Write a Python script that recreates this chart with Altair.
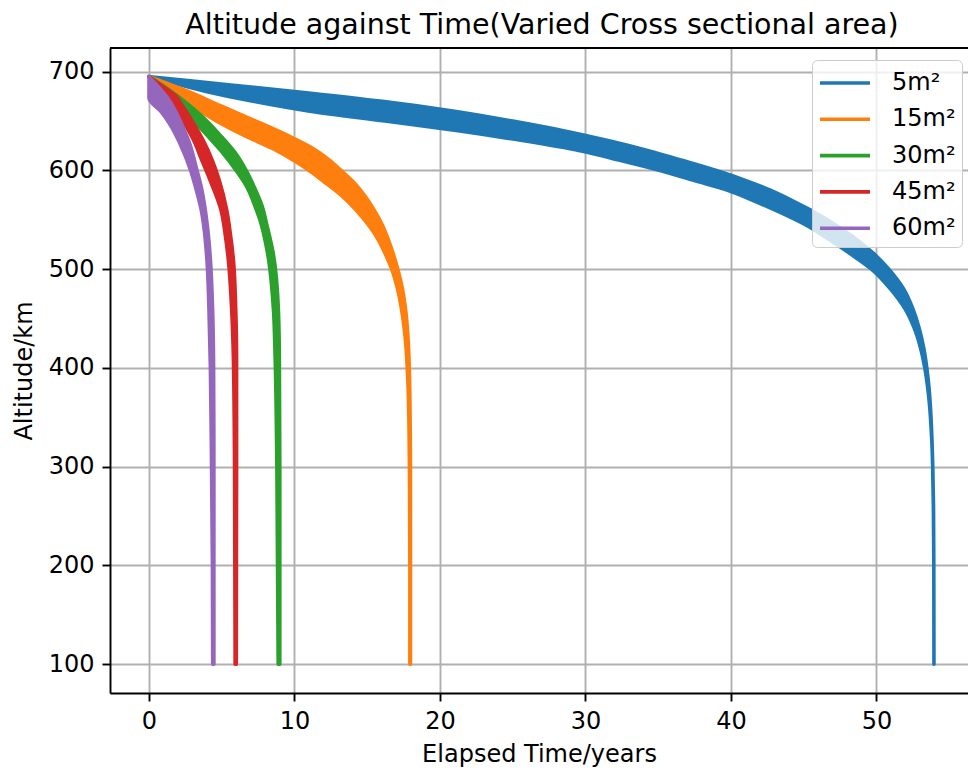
import altair as alt
import pandas as pd

# Cross-sectional areas and their line colours
names = ["5m²", "15m²", "30m²", "45m²", "60m²"]
colors = ["#1f77b4", "#ff7f0e", "#2ca02c", "#d62728", "#9467bd"]

# Each band is the region swept by the oscillating altitude: at a given
# altitude (km) the band runs from t_left (perigee passes it) to t_right
# (apogee passes it), both in years.
alt_5 = [695, 690, 680, 670, 660, 650, 640, 630, 620, 610, 600, 590, 580, 570, 560,
         545, 530, 516, 500, 480, 460, 440, 420, 400, 380, 360, 340, 320, 300, 260, 200, 100]
tl_5 = [0, 1.25, 3.91, 7.14, 11.04, 16.21, 21.36, 25.77, 29.62, 32.43, 35.12, 37.44, 39.77, 41.45, 43.0,
        45.11, 46.74, 48.15, 49.65, 50.95, 51.95, 52.6, 53.03, 53.32, 53.52, 53.66, 53.75, 53.82, 53.86,
        53.91, 53.94, 53.95]
tr_5 = [0, 3.33, 10.0, 16.04, 21.0, 25.0, 28.57, 31.62, 34.32, 36.71, 39.0, 40.99, 42.71, 44.14, 45.45,
        47.16, 48.65, 49.8, 50.85, 51.87, 52.5, 52.94, 53.25, 53.46, 53.61, 53.71, 53.78, 53.83, 53.87,
        53.92, 53.94, 53.95]

alt_15 = [695, 680, 665, 650, 635, 622.5, 610, 600, 587, 575, 560, 545, 530, 515, 500, 480, 460,
          440, 420, 400, 370, 330, 280, 200, 100]
tl_15 = [0, 1.4, 3.0, 4.65, 6.6, 8.45, 9.95, 11.0, 12.17, 13.2, 14.23, 15.07, 15.75, 16.25, 16.68,
         17.08, 17.35, 17.54, 17.67, 17.75, 17.83, 17.88, 17.91, 17.93, 17.93]
tr_15 = [0, 2.7, 5.0, 7.35, 9.6, 11.25, 12.45, 13.2, 14.13, 14.8, 15.47, 16.03, 16.45, 16.8, 17.1,
         17.42, 17.63, 17.76, 17.84, 17.89, 17.93, 17.96, 17.97, 17.97, 17.97]

alt_30 = [695, 688, 675, 655, 636, 618, 600, 584, 560, 550, 516, 460, 410, 300, 100]
tl_30 = [0, 0.6, 1.56, 2.79, 3.96, 5.05, 5.98, 6.7, 7.38, 7.62, 8.15, 8.55, 8.67, 8.79, 8.88]
tr_30 = [0, 0.75, 2.0, 3.63, 4.87, 5.92, 6.68, 7.21, 7.86, 8.02, 8.54, 8.89, 8.96, 8.99, 8.99]

alt_45 = [695, 685, 675, 668, 650, 631, 610, 590, 560, 535, 510, 460, 410, 300, 100]
tl_45 = [0, 0.75, 1.29, 1.67, 2.34, 3.05, 3.64, 4.2, 4.95, 5.24, 5.45, 5.68, 5.8, 5.88, 5.92]
tr_45 = [0, 0.94, 1.87, 2.19, 2.97, 3.71, 4.36, 4.83, 5.34, 5.6, 5.8, 5.96, 6.02, 6.02, 6.0]

alt_60 = [695, 673, 660, 645, 628, 600, 584, 560, 543, 510, 460, 400, 300, 200, 100]
tl_60 = [0, 0, 0.8, 1.51, 2.1, 2.86, 3.18, 3.59, 3.77, 3.98, 4.12, 4.22, 4.30, 4.36, 4.38]
tr_60 = [0, 1.3, 1.82, 2.3, 2.78, 3.3, 3.58, 3.87, 4.02, 4.22, 4.37, 4.44, 4.46, 4.46, 4.46]

bands = [(alt_5, tl_5, tr_5), (alt_15, tl_15, tr_15), (alt_30, tl_30, tr_30),
         (alt_45, tl_45, tr_45), (alt_60, tl_60, tr_60)]

x_ticks = [0, 10, 20, 30, 40, 50]
y_ticks = [100, 200, 300, 400, 500, 600, 700]

rows = []
for name, (a, tl, tr) in zip(names, bands):
    for ai, l, r in zip(a, tl, tr):
        rows.append({"area": name, "altitude": ai, "t_left": l, "t_right": r})
df = pd.DataFrame(rows)

FONT = "DejaVu Sans"
W, H = 858, 645

x_scale = alt.Scale(domain=[-2.68, 56.29], nice=False, zero=False)
y_scale = alt.Scale(domain=[70.8, 724.0], nice=False, zero=False)
c_scale = alt.Scale(domain=names, range=colors)

# legend handle: a short horizontal stroke, drawn as a custom symbol path
legend = alt.Legend(
    title=None, orient="none", legendX=702, legendY=12,
    symbolType="M-1,0H2.333", symbolSize=900, symbolStrokeWidth=3.6,
    labelFont=FONT, labelFontSize=24, labelColor="black", labelOffset=40,
    padding=6, rowPadding=7.3,
    fillColor="rgba(255,255,255,0.8)", strokeColor="#cccccc", cornerRadius=5,
)

layers = []
for name in names:
    layer = (
        alt.Chart(df)
        .transform_filter(alt.datum.area == name)
        .mark_area(orient="horizontal", interpolate="monotone", strokeWidth=3.6,
                   strokeJoin="round", opacity=1, fillOpacity=1)
        .encode(
            y=alt.Y("altitude:Q", scale=y_scale,
                    axis=alt.Axis(values=y_ticks, title="Altitude/km", titlePadding=12)),
            x=alt.X("t_left:Q", scale=x_scale,
                    axis=alt.Axis(values=x_ticks, title="Elapsed Time/years", titlePadding=9)),
            x2="t_right:Q",
            fill=alt.Fill("area:N", scale=c_scale, legend=legend),
            stroke=alt.Stroke("area:N", scale=c_scale, legend=legend),
        )
    )
    layers.append(layer)

# top spine of the frame
top_spine = alt.Chart(df).mark_rule(color="black", strokeWidth=1.9).encode(
    x=alt.value(0), x2=alt.value(W), y=alt.value(0)
)

chart = (
    alt.layer(*layers, top_spine)
    .properties(
        width=W, height=H,
        title=alt.TitleParams(
            "Altitude against Time(Varied Cross sectional area)",
            font=FONT, fontSize=28.5, fontWeight="normal", color="black",
            anchor="middle", frame="group", offset=8, dx=3,
        ),
        autosize=alt.AutoSizeParams(type="none"),
        padding={"left": 110, "top": 48, "right": 0, "bottom": 80},
    )
    .configure_view(stroke=None)
    .configure_axis(
        labelFont=FONT, labelFontSize=24, labelColor="black",
        titleFont=FONT, titleFontSize=24, titleFontWeight="normal", titleColor="black",
        domainColor="black", domainWidth=1.9,
        tickColor="black", tickWidth=1.9, tickSize=8, labelPadding=8,
        gridColor="#b0b0b0", gridWidth=1.9,
    )
)

chart.save("out.html", embed_options={"renderer": "svg", "actions": False})
